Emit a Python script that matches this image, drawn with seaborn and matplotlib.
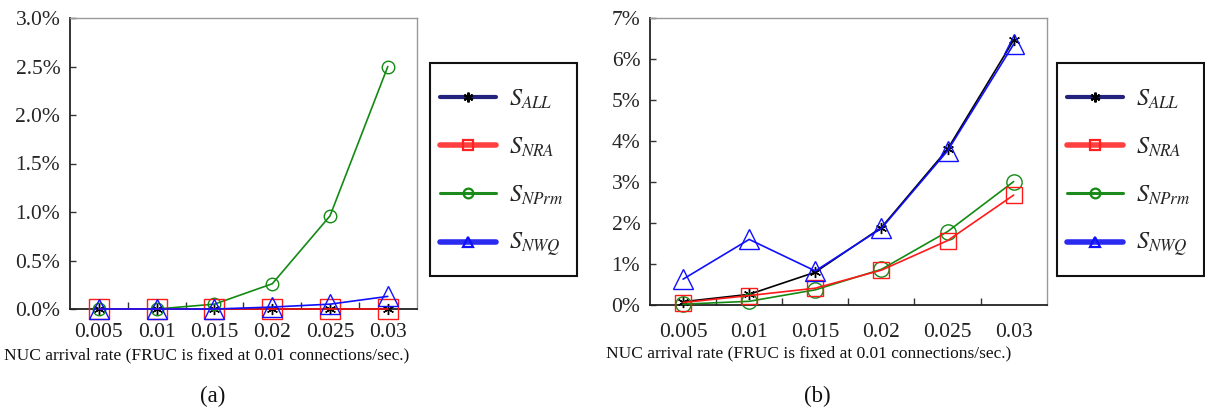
import matplotlib
matplotlib.use("Agg")
import matplotlib.pyplot as plt
from matplotlib.lines import Line2D
from matplotlib.patches import Rectangle
from matplotlib.ticker import FixedLocator, FuncFormatter
import seaborn as sns
import pandas as pd

# ---------------- data ----------------
rates = [0.005, 0.01, 0.015, 0.02, 0.025, 0.03]
rate_labels = ["0.005", "0.01", "0.015", "0.02", "0.025", "0.03"]

# panel (a), values in %
a_all = [0.0, 0.0, 0.0, 0.0, 0.0, 0.0]
a_nra = [0.0, 0.0, 0.0, 0.0, 0.0, 0.0]
a_nprm = [0.0, 0.0, 0.05, 0.26, 0.96, 2.50]
a_nwq = [0.0, 0.0, 0.0, 0.02, 0.05, 0.13]

# panel (b), values in %
b_all = [0.08, 0.26, 0.80, 1.89, 3.80, 6.46]
b_nra = [0.06, 0.23, 0.41, 0.85, 1.57, 2.68]
b_nprm = [0.02, 0.09, 0.37, 0.87, 1.79, 3.01]
b_nwq = [0.63, 1.60, 0.83, 1.87, 3.76, 6.36]

series_names = ["ALL", "NRA", "NPrm", "NWQ"]
legend_labels = [r"$S_{ALL}$", r"$S_{NRA}$", r"$S_{NPrm}$", r"$S_{NWQ}$"]

# ---------------- style ----------------
sns.set_theme(style="white")
plt.rcParams["font.family"] = ["Liberation Serif", "DejaVu Serif"]
plt.rcParams["mathtext.fontset"] = "stix"

colors = {"ALL": "#000000", "NRA": "#ff1a1a", "NPrm": "#138a13", "NWQ": "#1010ff"}
markers = {"ALL": (6, 2, 0), "NRA": "s", "NPrm": "o", "NWQ": "^"}
draw_order = ["ALL", "NPrm", "NRA", "NWQ"]

W, H = 1205, 409
fig = plt.figure(figsize=(W / 100, H / 100), dpi=100)
ax1 = fig.add_axes([70 / W, 100 / H, 346.7 / W, 291 / H])
ax2 = fig.add_axes([650 / W, 104 / H, 396.7 / W, 287 / H])


def make_df(vals):
    rows = []
    for name, v in zip(series_names, vals):
        for r, y in zip(rates, v):
            rows.append({"rate": r, "value": y, "series": name})
    return pd.DataFrame(rows)


def draw(ax, df, msizes, ymax, ystep, fmt, xpad):
    for name in draw_order:
        sub = df[df["series"] == name]
        sns.lineplot(data=sub, x="rate", y="value", ax=ax, color=colors[name],
                     marker=markers[name], markersize=msizes[name],
                     markerfacecolor="none", markeredgecolor=colors[name],
                     markeredgewidth=1.0, linewidth=1.2, clip_on=False,
                     legend=False, zorder=3)
    ax.set_xlim(0.0025, 0.0325)
    ax.set_ylim(0, ymax)
    ax.xaxis.set_major_locator(FixedLocator(rates))
    ax.set_xticklabels(rate_labels)
    ax.xaxis.set_minor_locator(FixedLocator([0.0075, 0.0125, 0.0175, 0.0225, 0.0275]))
    yt = [i * ystep for i in range(int(round(ymax / ystep)) + 1)]
    ax.yaxis.set_major_locator(FixedLocator(yt))
    ax.yaxis.set_major_formatter(FuncFormatter(fmt))
    ax.tick_params(axis="x", which="major", length=0, labelsize=15.5, pad=xpad,
                   colors="#222222")
    ax.tick_params(axis="x", which="minor", direction="in", length=5, width=1,
                   color="#333333", bottom=True)
    ax.tick_params(axis="y", which="major", direction="in", length=4, width=1,
                   color="#333333", labelsize=15.5, pad=7, left=True)
    for s in ["left", "bottom"]:
        ax.spines[s].set_color("#222222")
        ax.spines[s].set_linewidth(1.3)
    for s in ["top", "right"]:
        ax.spines[s].set_color("#999999")
        ax.spines[s].set_linewidth(1.0)
    ax.set_xlabel("NUC arrival rate (FRUC is fixed at 0.01 connections/sec.)",
                  fontsize=12.5, color="#111111")
    ax.set_ylabel("")


draw(ax1, make_df([a_all, a_nra, a_nprm, a_nwq]),
     {"ALL": 8, "NRA": 14, "NPrm": 9, "NWQ": 14}, 3.0, 0.5,
     lambda v, p: f"{v:.1f}%", 10)
draw(ax2, make_df([b_all, b_nra, b_nprm, b_nwq]),
     {"ALL": 8, "NRA": 12, "NPrm": 11, "NWQ": 14}, 7.0, 1.0,
     lambda v, p: f"{v:.0f}%", 13)

ax1.xaxis.set_label_coords((207 - 70) / 346.7, -0.132)
ax2.xaxis.set_label_coords((809 - 650) / 396.7, -0.14)

# legends
leg_colors = {"ALL": "#23237e", "NRA": "#ff4040", "NPrm": "#1d8a1d", "NWQ": "#2a2af0"}
leg_lw = {"ALL": 3, "NRA": 4, "NPrm": 2.2, "NWQ": 4}
leg_mc = {"ALL": "#000000", "NRA": "#ff2020", "NPrm": "#138a13", "NWQ": "#1010ff"}
handles = [Line2D([], [], color=leg_colors[n], lw=leg_lw[n], marker=markers[n],
                  markersize=7, markerfacecolor="none" if n != "ALL" else "#000000",
                  markeredgecolor=leg_mc[n], markeredgewidth=1.6)
           for n in series_names]

for bx0, bx1 in ((430, 577), (1057, 1204)):
    fig.patches.append(Rectangle((bx0 / W, 1 - 276 / H), (bx1 - bx0) / W, 213 / H,
                                 transform=fig.transFigure, facecolor="white",
                                 edgecolor="#111111", linewidth=1.5, zorder=1))
    leg = fig.legend(handles, legend_labels, loc="upper left",
                     bbox_to_anchor=((bx0 + 10) / W, 1 - 88 / H),
                     frameon=False, fontsize=17.5, handlelength=2.3,
                     handletextpad=0.55, labelspacing=1.0, borderpad=0,
                     borderaxespad=0)
    leg.set_zorder(2)

fig.text(213 / W, 1 - 396 / H, "(a)", ha="center", va="center", fontsize=16.5,
         color="#111111")
fig.text(817 / W, 1 - 396 / H, "(b)", ha="center", va="center", fontsize=16.5,
         color="#111111")

fig.savefig("out.png", dpi=100, facecolor="white")
